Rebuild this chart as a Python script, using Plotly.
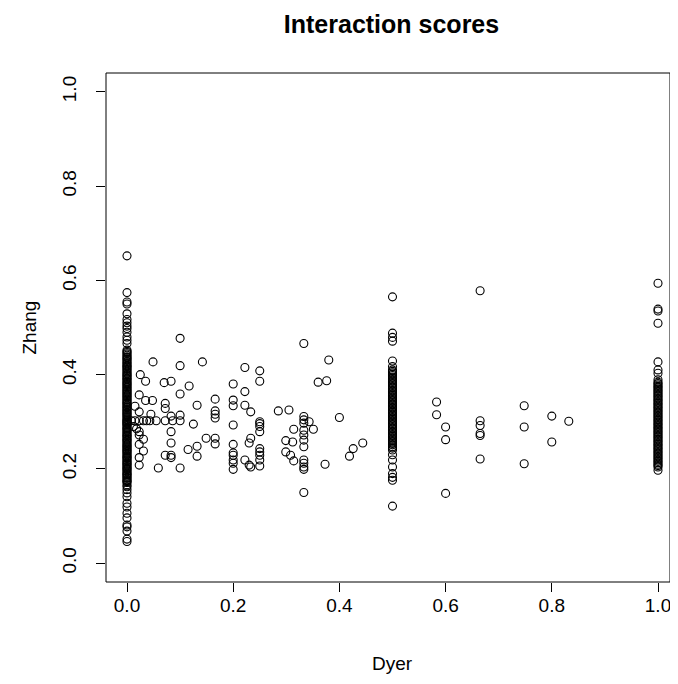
import plotly.graph_objects as go

# ---- data ----
# Zhang scores of pairs whose Dyer score is 0
zhang_at_dyer0 = [0.652, 0.574, 0.554, 0.550, 0.529, 0.517, 0.510, 0.503, 0.498, 0.490,
                  0.480, 0.473, 0.466, 0.452, 0.447, 0.441, 0.436, 0.431, 0.425, 0.420,
                  0.416, 0.411, 0.405, 0.400, 0.396, 0.391, 0.386, 0.381, 0.377, 0.372,
                  0.367, 0.362, 0.358, 0.353, 0.348, 0.343, 0.339, 0.334, 0.330, 0.325,
                  0.320, 0.316, 0.311, 0.306, 0.302, 0.300, 0.297, 0.293, 0.288, 0.284,
                  0.279, 0.274, 0.270, 0.265, 0.261, 0.256, 0.251, 0.247, 0.242, 0.238,
                  0.233, 0.228, 0.224, 0.219, 0.214, 0.210, 0.205, 0.201, 0.196, 0.191,
                  0.187, 0.182, 0.177, 0.173, 0.156, 0.149, 0.141, 0.127, 0.119, 0.106,
                  0.096, 0.081, 0.077, 0.068, 0.051, 0.046,
                  # the solid black part of the column holds many more pairs
                  0.449, 0.444, 0.438, 0.433, 0.428, 0.423, 0.418, 0.413, 0.408, 0.403,
                  0.398, 0.393, 0.389, 0.384, 0.379, 0.374, 0.369, 0.365, 0.360, 0.355,
                  0.351, 0.346, 0.341, 0.337, 0.332, 0.327, 0.323, 0.318, 0.314, 0.309,
                  0.304, 0.299, 0.295, 0.291, 0.286, 0.282, 0.277, 0.272, 0.268, 0.263,
                  0.259, 0.254, 0.249, 0.245, 0.240, 0.236, 0.231, 0.226, 0.222, 0.217,
                  0.212, 0.208, 0.203, 0.199, 0.194, 0.189, 0.185, 0.180, 0.175, 0.171,
                  0.166, 0.162]
# Zhang scores of pairs whose Dyer score is 0.5
zhang_at_dyer05 = [0.565, 0.488, 0.479, 0.471, 0.429, 0.417, 0.410, 0.404, 0.398, 0.392,
                   0.386, 0.380, 0.374, 0.368, 0.362, 0.356, 0.350, 0.344, 0.338, 0.332,
                   0.326, 0.320, 0.314, 0.308, 0.302, 0.296, 0.290, 0.284, 0.278, 0.272,
                   0.266, 0.260, 0.254, 0.247, 0.240, 0.230, 0.219, 0.204, 0.190, 0.182,
                   0.176, 0.121,
                   0.407, 0.401, 0.395, 0.389, 0.383, 0.377, 0.371, 0.365, 0.359, 0.353,
                   0.347, 0.341, 0.335, 0.329, 0.323, 0.317, 0.311, 0.305, 0.299, 0.293,
                   0.287, 0.281, 0.275, 0.269, 0.263, 0.257, 0.251, 0.244]
# Zhang scores of pairs whose Dyer score is 1
zhang_at_dyer1 = [0.594, 0.539, 0.535, 0.509, 0.427, 0.410, 0.403, 0.389, 0.384, 0.378,
                  0.372, 0.366, 0.360, 0.354, 0.348, 0.342, 0.336, 0.330, 0.324, 0.318,
                  0.312, 0.306, 0.300, 0.294, 0.288, 0.282, 0.276, 0.270, 0.264, 0.258,
                  0.252, 0.246, 0.240, 0.234, 0.228, 0.222, 0.216, 0.210, 0.204, 0.197,
                  0.381, 0.375, 0.369, 0.363, 0.357, 0.351, 0.345, 0.339, 0.333, 0.327,
                  0.321, 0.315, 0.309, 0.303, 0.297, 0.291, 0.285, 0.279, 0.273, 0.267,
                  0.261, 0.255, 0.249, 0.243, 0.237, 0.231, 0.225, 0.219, 0.213, 0.207]
# remaining pairs (Dyer, Zhang)
other_dyer = [0.049, 0.100, 0.025, 0.035, 0.023, 0.035, 0.048, 0.015, 0.023, 0.045,
              0.008, 0.015, 0.023, 0.031, 0.037, 0.043, 0.055, 0.072, 0.086, 0.100,
              0.072, 0.072, 0.083, 0.083, 0.070, 0.100, 0.100, 0.117, 0.132, 0.125, 0.100,
              0.083, 0.083, 0.072, 0.083, 0.083, 0.059, 0.100, 0.115, 0.132, 0.132, 0.149, 0.142,
              0.023, 0.023, 0.031, 0.023, 0.031, 0.023, 0.023, 0.012, 0.018,
              0.166, 0.166, 0.166, 0.166, 0.166, 0.166,
              0.200, 0.200, 0.200, 0.200, 0.200, 0.200, 0.200, 0.200, 0.200, 0.200,
              0.222, 0.222, 0.222, 0.233, 0.233, 0.230, 0.222, 0.230, 0.233,
              0.250, 0.250, 0.250, 0.250, 0.250, 0.250, 0.250, 0.250, 0.250, 0.250, 0.250,
              0.285, 0.305, 0.314, 0.299, 0.312, 0.299, 0.308, 0.314,
              0.333, 0.333, 0.333, 0.333, 0.333, 0.333, 0.333, 0.333, 0.333, 0.333, 0.333, 0.333, 0.333,
              0.343, 0.351, 0.360, 0.376, 0.380, 0.400, 0.373, 0.419, 0.426, 0.444,
              0.583, 0.583, 0.600, 0.600, 0.600, 0.665, 0.665, 0.665, 0.665, 0.665, 0.665,
              0.748, 0.748, 0.748, 0.800, 0.800, 0.832]
other_zhang = [0.427, 0.477, 0.400, 0.386, 0.357, 0.345, 0.345, 0.333, 0.321, 0.316,
               0.302, 0.302, 0.302, 0.302, 0.302, 0.302, 0.302, 0.302, 0.302, 0.302,
               0.339, 0.328, 0.312, 0.386, 0.383, 0.419, 0.359, 0.376, 0.335, 0.295, 0.314,
               0.279, 0.255, 0.229, 0.229, 0.224, 0.202, 0.202, 0.241, 0.248, 0.227, 0.265, 0.427,
               0.279, 0.272, 0.263, 0.252, 0.238, 0.224, 0.208, 0.290, 0.285,
               0.348, 0.323, 0.316, 0.308, 0.265, 0.253,
               0.380, 0.346, 0.334, 0.293, 0.252, 0.234, 0.229, 0.219, 0.212, 0.199,
               0.415, 0.364, 0.335, 0.321, 0.265, 0.255, 0.219, 0.208, 0.204,
               0.408, 0.386, 0.300, 0.296, 0.290, 0.279, 0.243, 0.236, 0.229, 0.219, 0.206,
               0.323, 0.325, 0.284, 0.260, 0.257, 0.236, 0.229, 0.217,
               0.466, 0.311, 0.304, 0.297, 0.282, 0.272, 0.261, 0.247, 0.219, 0.212, 0.204, 0.199, 0.150,
               0.300, 0.284, 0.384, 0.387, 0.431, 0.309, 0.210, 0.227, 0.243, 0.255,
               0.342, 0.315, 0.289, 0.262, 0.148, 0.578, 0.302, 0.292, 0.275, 0.271, 0.221,
               0.334, 0.289, 0.211, 0.312, 0.257, 0.301]
tick_vals = [0.0, 0.2, 0.4, 0.6, 0.8, 1.0]
tick_text = ["0.0", "0.2", "0.4", "0.6", "0.8", "1.0"]

dyer = ([0.0] * len(zhang_at_dyer0) + [0.5] * len(zhang_at_dyer05)
        + [1.0] * len(zhang_at_dyer1) + other_dyer)
zhang = zhang_at_dyer0 + zhang_at_dyer05 + zhang_at_dyer1 + other_zhang

FONT = "Liberation Sans, Arial, sans-serif"
PAGE_OFF = 8                      # default body margin of the html page
W, H = 678 - 2 * PAGE_OFF, 684 - 2 * PAGE_OFF   # keep the page free of scrollbars
L, T = 106 - PAGE_OFF, 73 - PAGE_OFF
R = 0
B = H - (582 - PAGE_OFF)
PW, PH = W - L - R, H - T - B
# window pixel of Dyer 0 is 127, of Dyer 1 is 658
x_left = (106 - 127) / 531
x_right = (W + PAGE_OFF - 127) / 531

fig = go.Figure(go.Scatter(
    x=dyer, y=zhang, mode="markers",
    marker=dict(symbol="circle-open", size=8, color="black", line=dict(width=1.1, color="black")),
    showlegend=False, hoverinfo="x+y",
))

axis_common = dict(
    tickvals=tick_vals, ticktext=tick_text, ticks="outside", ticklen=9, tickwidth=1,
    tickcolor="black", showgrid=False, zeroline=False, showline=False,
    tickfont=dict(family=FONT, size=19, color="black"), ticklabeloverflow="allow",
)
fig.update_xaxes(range=[x_left, x_right], **axis_common, ticklabelstandoff=-3)
fig.update_yaxes(range=[-0.04, 1.04], tickangle=-90, **axis_common, ticklabelstandoff=12)

fig.update_layout(
    width=W, height=H, margin=dict(l=L, r=R, t=T, b=B),
    paper_bgcolor="white", plot_bgcolor="white",
    title=dict(text="<b>Interaction scores</b>", x=(391.5 - PAGE_OFF) / W, xanchor="center",
               xref="container", y=1 - (24 - PAGE_OFF) / H, yanchor="middle", yref="container",
               font=dict(family=FONT, size=25, color="black")),
    shapes=[dict(type="rect", xref="paper", yref="paper", x0=0, x1=1, y0=0, y1=1,
                 line=dict(color="black", width=1))],
    annotations=[
        dict(text="Dyer", xref="paper", yref="paper", x=(392 - 106) / PW, y=-(663 - 582) / PH,
             xanchor="center", yanchor="middle", showarrow=False,
             font=dict(family=FONT, size=19, color="black")),
        dict(text="Zhang", xref="paper", yref="paper", x=(29 - 106) / PW, y=0.5,
             xanchor="center", yanchor="middle", textangle=-90, showarrow=False,
             font=dict(family=FONT, size=19, color="black")),
    ],
)

fig.write_html("out.html")
